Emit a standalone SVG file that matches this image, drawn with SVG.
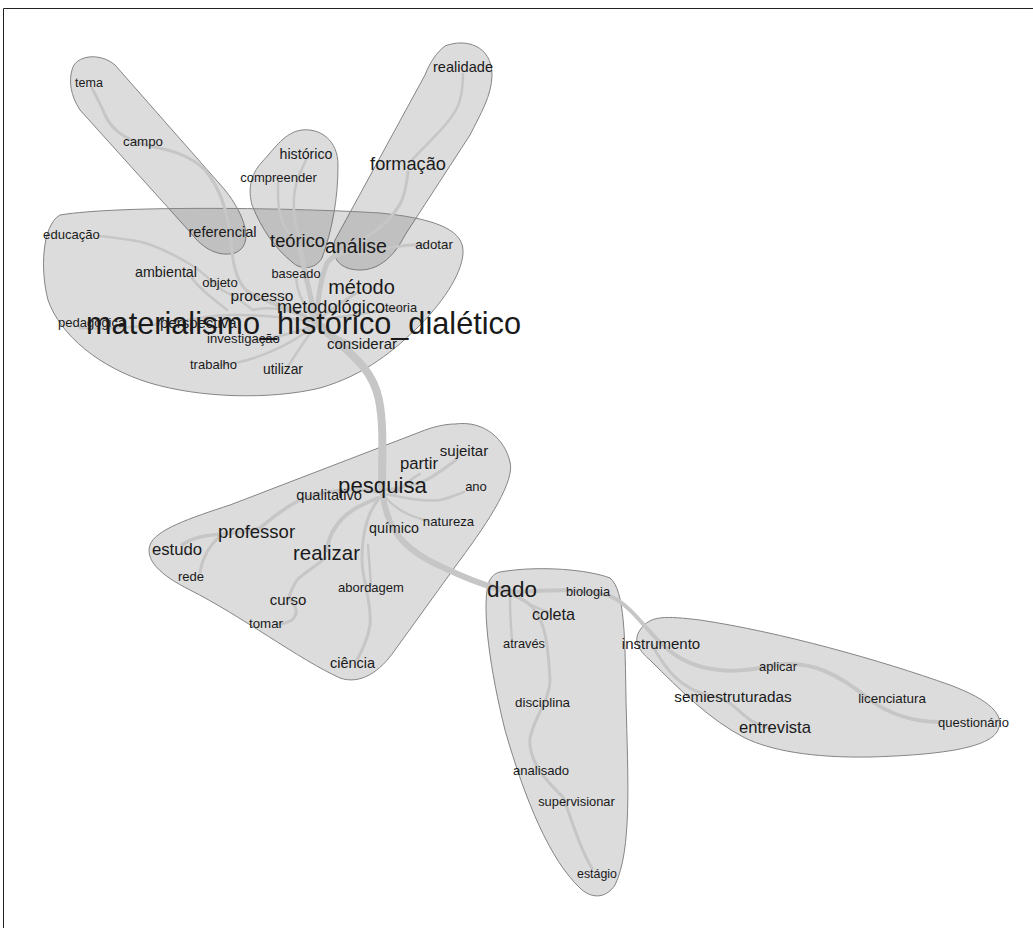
<svg xmlns="http://www.w3.org/2000/svg" width="1033" height="928" viewBox="0 0 1033 928">
<style>
.b{fill:#505050;fill-opacity:0.2;stroke:#858585;stroke-width:1}
.e{fill:none;stroke:#c6c6c6;stroke-linecap:round;stroke-linejoin:round}
text{font-family:"Liberation Sans",Arial,sans-serif;fill:#1a1a1a;text-anchor:middle}
.s{text-anchor:start}
</style>
<rect x="0" y="0" width="1033" height="928" fill="#ffffff"/>
<g id="frame"><path d="M3.5,928 V8.5 H1033" fill="none" stroke="#222" stroke-width="1"/></g>
<g id="clusters">
<path class="b" d="M72,70 C75,55 100,52 115,65 L225,190 C245,215 255,245 235,253 C215,258 200,245 190,232 L80,110 C70,95 69,80 72,70 Z"/>
<path class="b" d="M302,130 C320,128 338,140 338,165 C338,200 332,230 322,258 C315,270 300,270 292,262 C275,248 262,230 252,205 C248,190 250,175 262,162 C275,148 285,132 302,130 Z"/>
<path class="b" d="M445,46 C465,38 492,45 492,75 C492,95 480,115 470,135 L405,235 C395,255 380,270 360,270 C340,270 330,258 335,240 L425,75 C430,62 437,52 445,46 Z"/>
<path class="b" d="M60,215 C120,205 300,208 380,213 C430,218 462,228 463,250 C464,270 445,300 420,325 C395,350 365,375 320,388 C270,400 200,398 150,383 C100,368 60,335 48,300 C40,270 42,225 60,215 Z"/>
<path class="b" d="M455,424 C485,420 505,440 510,462 C515,480 490,520 460,560 L395,650 C380,672 360,685 340,678 C300,660 240,615 190,590 C160,575 145,560 150,545 C155,530 190,518 230,505 L420,432 C432,427 445,424 455,424 Z"/>
<path class="b" d="M500,572 C540,565 590,570 610,578 C625,590 625,640 626,700 C628,780 632,850 615,885 C605,900 590,898 580,888 C550,860 525,800 505,730 C490,670 482,610 488,585 C490,577 495,573 500,572 Z"/>
<path class="b" d="M640,630 C650,615 665,616 700,620 C780,632 880,660 950,685 C990,700 1005,715 998,730 C990,748 940,755 870,757 C810,758 770,750 745,738 C710,720 680,690 650,660 C638,650 633,640 640,630 Z"/>
</g>
<g id="edges">
<path class="e" stroke-width="8" d="M316,322 C345,350 372,365 379,400 C384,425 382,455 382,487"/>
<path class="e" stroke-width="6" d="M382,490 C386,530 405,550 440,566 C465,578 490,588 512,592"/>
<path class="e" stroke-width="4" d="M512,592 C550,590 592,588 612,597 C638,610 650,640 680,658 C705,672 735,674 770,666 C810,658 840,675 870,700 C895,718 920,722 940,722"/>
<path class="e" stroke-width="3" d="M652,645 C665,668 680,690 712,696 C738,700 740,722 770,728"/>
<path class="e" stroke-width="3" d="M514,596 C545,605 548,640 550,680 C550,700 535,715 530,738 C528,760 545,780 563,797 C572,820 580,850 592,868"/>
<path class="e" stroke-width="2.5" d="M510,598 C510,615 511,628 512,640"/>
<path class="e" stroke-width="2.5" d="M515,596 C530,605 540,610 550,612"/>
<path class="e" stroke-width="3" d="M383,490 C405,488 420,484 430,478 C440,472 448,466 456,460"/>
<path class="e" stroke-width="2.5" d="M395,494 C410,480 415,476 420,474"/>
<path class="e" stroke-width="2.5" d="M385,494 C405,498 425,502 440,500 C450,498 458,494 464,492"/>
<path class="e" stroke-width="2.5" d="M384,496 C395,508 405,515 428,521"/>
<path class="e" stroke-width="2.5" d="M382,495 C385,505 390,515 392,524"/>
<path class="e" stroke-width="3.5" d="M378,492 C355,488 330,488 300,500 C280,510 270,520 260,528 C245,533 220,533 200,537 C192,539 186,542 182,545"/>
<path class="e" stroke-width="3" d="M220,536 C210,545 203,555 200,572"/>
<path class="e" stroke-width="4" d="M378,498 C360,505 345,512 335,528 C330,535 328,542 327,550"/>
<path class="e" stroke-width="3" d="M325,558 C318,565 305,572 297,580 C292,588 290,593 289,598 C295,605 300,612 292,620 C287,623 282,624 277,624"/>
<path class="e" stroke-width="3" d="M378,500 C366,515 362,535 362,560 C362,580 372,600 370,625 C368,640 362,650 357,660"/>
<path class="e" stroke-width="2.5" d="M368,545 C369,560 370,572 371,585"/>
<path class="e" stroke-width="5" d="M316,322 C318,300 320,280 327,263 C330,258 340,253 352,250"/>
<path class="e" stroke-width="5" d="M316,322 C312,300 305,275 300,248"/>
<path class="e" stroke-width="3" d="M360,254 C385,248 405,244 425,245"/>
<path class="e" stroke-width="3" d="M357,243 C380,230 395,215 402,200 C406,190 407,180 408,172"/>
<path class="e" stroke-width="2.5" d="M410,162 C430,140 455,120 460,100 C463,88 463,80 463,74"/>
<path class="e" stroke-width="2.5" d="M300,238 C292,218 292,195 298,178 C301,170 304,165 306,160"/>
<path class="e" stroke-width="2.5" d="M295,240 C282,228 278,210 278,195 C278,190 278,186 278,183"/>
<path class="e" stroke-width="3" d="M316,322 C290,310 258,300 246,290 C236,280 232,260 231,240 C228,215 222,190 205,170 C190,155 170,150 150,146 C125,140 112,130 105,115 C100,102 95,95 92,88"/>
<path class="e" stroke-width="2.5" d="M316,322 C300,312 275,305 253,310 C240,300 228,293 222,290 C210,280 200,270 193,266 C175,255 150,242 130,240 C115,238 105,236 98,236"/>
<path class="e" stroke-width="2.5" d="M227,310 C215,300 200,290 192,278"/>
<path class="e" stroke-width="2.5" d="M316,322 C300,300 297,290 296,278"/>
<path class="e" stroke-width="2.5" d="M316,322 C300,312 285,305 270,300"/>
<path class="e" stroke-width="2.5" d="M316,322 C270,315 230,312 200,318 C160,325 120,330 80,328"/>
<path class="e" stroke-width="2.5" d="M316,325 C290,335 265,340 250,340"/>
<path class="e" stroke-width="2.5" d="M316,325 C290,345 255,362 220,365"/>
<path class="e" stroke-width="2.5" d="M316,325 C305,340 295,355 287,368"/>
<path class="e" stroke-width="2.5" d="M316,325 C330,334 342,340 352,343"/>
<path class="e" stroke-width="3" d="M316,322 C330,310 345,300 358,292"/>
<path class="e" stroke-width="2.5" d="M316,320 C360,315 380,310 400,308"/>
</g>
<g id="n-tema"><text x="89" y="87" font-size="12.5">tema</text></g>
<g id="n-campo"><text x="143" y="146" font-size="13.3">campo</text></g>
<g id="n-referencial"><text x="222.5" y="237" font-size="14.6">referencial</text></g>
<g id="n-historico"><text x="306" y="159" font-size="14.2">histórico</text></g>
<g id="n-compreender"><text x="278.5" y="182" font-size="13">compreender</text></g>
<g id="n-realidade"><text x="463" y="72" font-size="14.6">realidade</text></g>
<g id="n-formacao"><text x="408" y="170" font-size="18.2">formação</text></g>
<g id="n-teorico"><text x="297.5" y="247" font-size="18.3">teórico</text></g>
<g id="n-analise"><text x="356" y="253" font-size="19.5">análise</text></g>
<g id="n-adotar"><text x="434" y="249" font-size="13.3">adotar</text></g>
<g id="n-educacao"><text x="71.5" y="239" font-size="13.1">educação</text></g>
<g id="n-ambiental"><text x="166" y="277" font-size="14.3">ambiental</text></g>
<g id="n-objeto"><text x="220" y="287" font-size="13">objeto</text></g>
<g id="n-baseado"><text x="296" y="278" font-size="12.8">baseado</text></g>
<g id="n-processo"><text x="262" y="301" font-size="15.5">processo</text></g>
<g id="n-metodo"><text x="361.5" y="294" font-size="20">método</text></g>
<g id="n-metodologico"><text x="331" y="313" font-size="18.2">metodológico</text></g>
<g id="n-teoria"><text x="401" y="312" font-size="12.8">teoria</text></g>
<g id="n-pedagogica"><text class="s" x="58" y="327" font-size="13">pedagógica</text></g>
<g id="n-perspectiva"><text class="s" x="160" y="328" font-size="15">perspectiva</text></g>
<g id="n-investigacao"><text x="243.5" y="343" font-size="13.1">investigação</text></g>
<g id="n-considerar"><text x="362" y="349" font-size="15">considerar</text></g>
<g id="n-trabalho"><text x="213.5" y="369" font-size="13">trabalho</text></g>
<g id="n-utilizar"><text x="283" y="374" font-size="13.8">utilizar</text></g>
<g id="n-materialismo"><text x="303.5" y="334" font-size="30.7">materialismo_histórico_dialético</text></g>
<g id="n-sujeitar"><text x="464" y="456" font-size="15">sujeitar</text></g>
<g id="n-partir"><text x="419" y="469" font-size="16.7">partir</text></g>
<g id="n-ano"><text x="476" y="491" font-size="13">ano</text></g>
<g id="n-qualitativo"><text x="329" y="500" font-size="14.6">qualitativo</text></g>
<g id="n-pesquisa"><text x="382.5" y="493" font-size="22.2">pesquisa</text></g>
<g id="n-natureza"><text x="448.5" y="526" font-size="13.2">natureza</text></g>
<g id="n-quimico"><text x="394" y="533" font-size="14.3">químico</text></g>
<g id="n-professor"><text x="256.5" y="538" font-size="18.5">professor</text></g>
<g id="n-estudo"><text x="177" y="555" font-size="16.7">estudo</text></g>
<g id="n-realizar"><text x="326.5" y="560" font-size="20.4">realizar</text></g>
<g id="n-rede"><text x="191" y="581" font-size="13">rede</text></g>
<g id="n-abordagem"><text x="371" y="592" font-size="13">abordagem</text></g>
<g id="n-curso"><text x="288" y="605" font-size="15">curso</text></g>
<g id="n-tomar"><text x="266" y="628" font-size="13.3">tomar</text></g>
<g id="n-ciencia"><text x="352.5" y="668" font-size="14.5">ciência</text></g>
<g id="n-dado"><text x="512" y="597" font-size="22.5">dado</text></g>
<g id="n-biologia"><text x="588" y="596" font-size="12.8">biologia</text></g>
<g id="n-coleta"><text x="553.5" y="620" font-size="16.2">coleta</text></g>
<g id="n-atraves"><text x="524" y="648" font-size="12.8">através</text></g>
<g id="n-disciplina"><text x="542.5" y="707" font-size="13.4">disciplina</text></g>
<g id="n-analisado"><text x="541" y="775" font-size="13.1">analisado</text></g>
<g id="n-supervisionar"><text x="576.5" y="806" font-size="12.9">supervisionar</text></g>
<g id="n-estagio"><text x="597" y="878" font-size="12.4">estágio</text></g>
<g id="n-instrumento"><text x="661" y="649" font-size="15">instrumento</text></g>
<g id="n-aplicar"><text x="778" y="671" font-size="12.9">aplicar</text></g>
<g id="n-semiestruturadas"><text x="733" y="702" font-size="15.3">semiestruturadas</text></g>
<g id="n-licenciatura"><text x="892" y="703" font-size="13.4">licenciatura</text></g>
<g id="n-entrevista"><text x="775" y="733" font-size="16.6">entrevista</text></g>
<g id="n-questionario"><text x="973.5" y="727" font-size="13">questionário</text></g>
</svg>
